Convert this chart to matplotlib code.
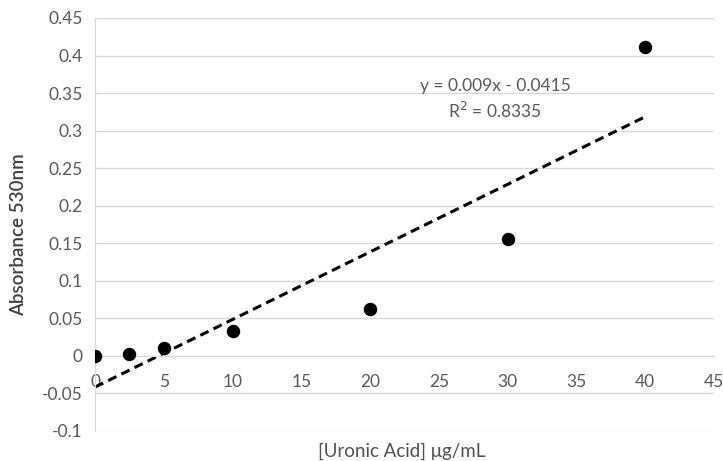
import matplotlib
matplotlib.use("Agg")
import matplotlib.pyplot as plt
import numpy as np

plt.rcParams['font.family'] = ['Lato', 'DejaVu Sans']

conc = [0, 2.5, 5, 10, 20, 30, 40]
absorb = [0.0, 0.002, 0.01, 0.033, 0.063, 0.156, 0.412]
slope = 0.009
intercept = -0.0415
eq_text = "y = 0.009x - 0.0415"
r2_text = "R$^2$ = 0.8335"

grey = '#595959'

fig = plt.figure(figsize=(7.23, 4.61), dpi=100)
ax = fig.add_axes([0.1314, 0.0651, 0.8562, 0.8959])

for yv in np.arange(-0.1, 0.451, 0.05):
    ax.axhline(yv, color='#d9d9d9', lw=1, zorder=0)

ax.scatter(conc, absorb, s=75, color='black', zorder=3)

xfit = np.array([min(conc), max(conc)])
ax.plot(xfit, slope * xfit + intercept, color='black', lw=2.2, ls=(0, (3, 1.8)), zorder=2)

ax.set_xlim(0, 45)
ax.set_ylim(-0.1, 0.45)
ax.set_xticks(range(0, 46, 5))
ax.set_yticks(np.round(np.arange(-0.1, 0.451, 0.05), 2))
ax.set_yticklabels(['-0.1', '-0.05', '0', '0.05', '0.1', '0.15', '0.2', '0.25',
                    '0.3', '0.35', '0.4', '0.45'])

for s in ['top', 'right']:
    ax.spines[s].set_visible(False)
ax.spines['bottom'].set_position(('data', 0))
ax.spines['bottom'].set_color('#d9d9d9')
ax.spines['left'].set_color('#d9d9d9')
ax.tick_params(axis='both', length=0, colors=grey, labelsize=12.5)
ax.tick_params(axis='x', pad=13)
ax.tick_params(axis='y', pad=9)

ax.text(29.1, 0.360, eq_text, ha='center', va='center', fontsize=12.5, color=grey)
ax.text(29.1, 0.326, r2_text, ha='center', va='center', fontsize=12.5, color=grey)

fig.text(0.555, 0.022, "[Uronic Acid] μg/mL", ha='center', va='center', fontsize=13.5, color='#505050')
fig.text(0.026, 0.49, "Absorbance 530nm", ha='center', va='center', rotation=90,
         fontsize=13.5, color='#404040', fontweight='semibold')

fig.savefig("out.png", dpi=100)
